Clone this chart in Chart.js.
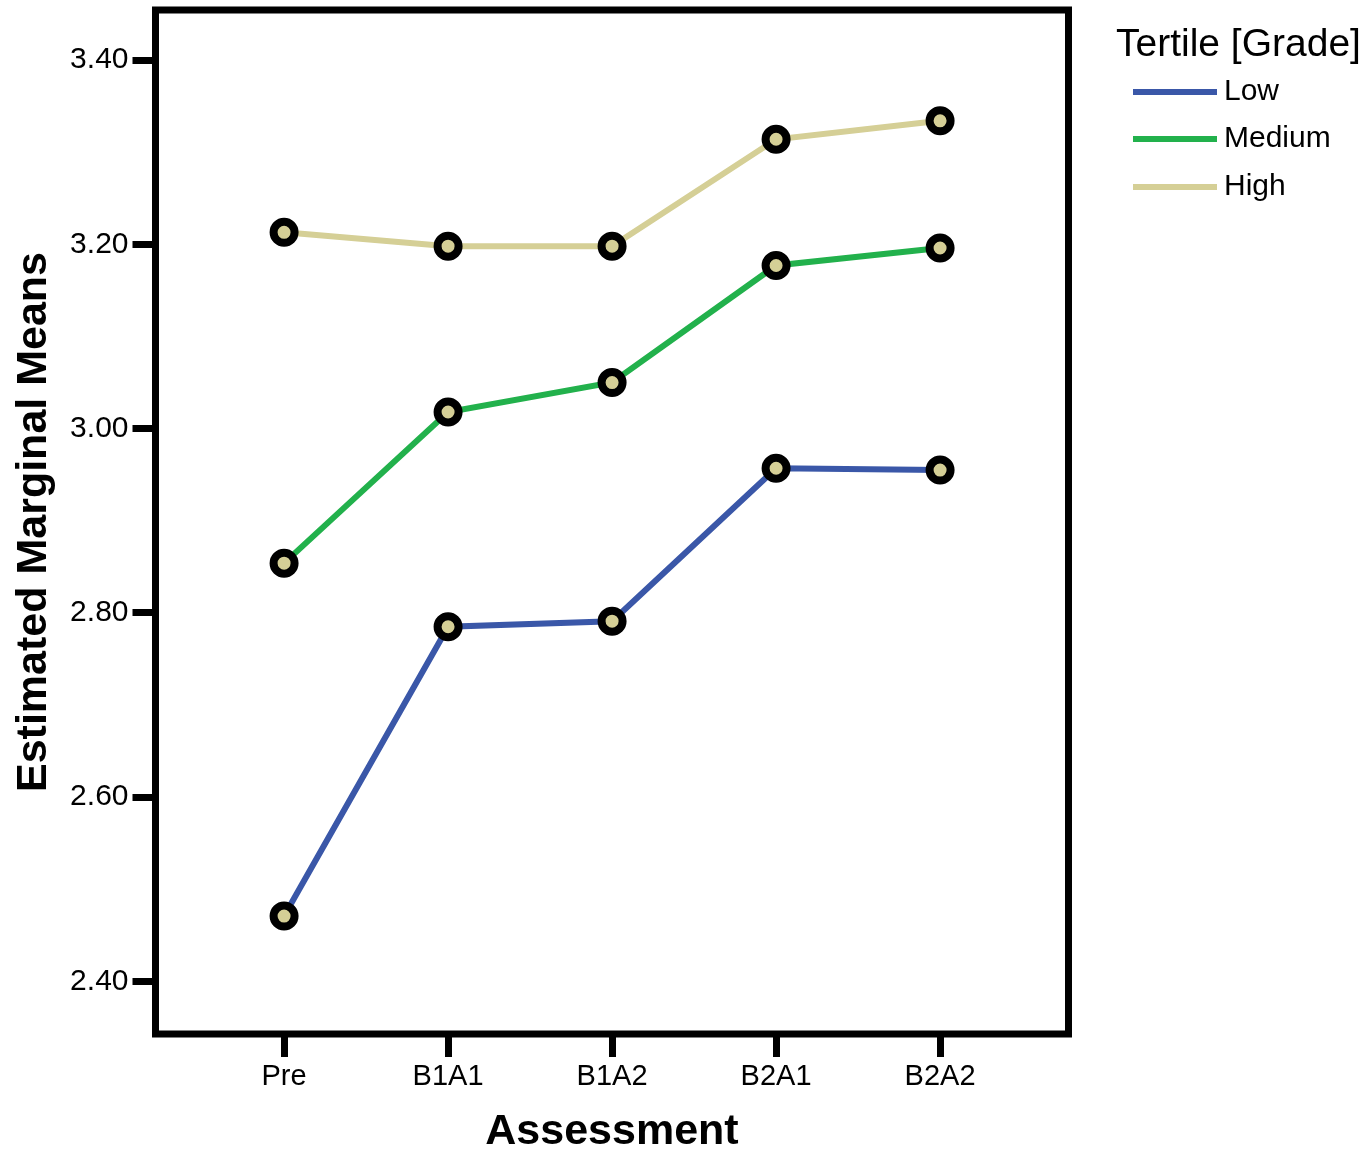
<!DOCTYPE html>
<html>
<head>
<meta charset="utf-8">
<script src="https://cdn.jsdelivr.net/npm/chart.js@4/dist/chart.umd.min.js"></script>
<style>
  html, body { margin: 0; padding: 0; background: #fff; }
  #wrap { width: 1370px; height: 1154px; position: relative; }
</style>
</head>
<body>
<div id="wrap"><canvas id="myChart" width="1370" height="1154"></canvas></div>
<script>
const categories = ['Pre', 'B1A1', 'B1A2', 'B2A1', 'B2A2'];
const lowVals = [2.471, 2.785, 2.791, 2.957, 2.955];
const mediumVals = [2.854, 3.018, 3.050, 3.177, 3.196];
const highVals = [3.213, 3.198, 3.198, 3.314, 3.334];
const yTicks = [2.40, 2.60, 2.80, 3.00, 3.20, 3.40];
const seriesNames = ['Low', 'Medium', 'High'];
const legendTitle = 'Tertile [Grade]';

const lineColors = ['#3a57a8', '#22b14c', '#d5cf96'];
const FONT = '"Liberation Sans", Arial, sans-serif';

function toPoints(vals) {
  return vals.map((v, i) => ({ x: i, y: v }));
}

// black frame round the plot area
const framePlugin = {
  id: 'frame',
  beforeDatasetsDraw(chart) {
    const a = chart.chartArea;
    const ctx = chart.ctx;
    ctx.save();
    ctx.strokeStyle = '#000';
    ctx.lineWidth = 7;
    ctx.strokeRect(a.left, a.top, a.right - a.left, a.bottom - a.top);
    ctx.restore();
  }
};

// legend on the right, like the SPSS one
const legendPlugin = {
  id: 'sideLegend',
  afterDraw(chart) {
    const ctx = chart.ctx;
    ctx.save();
    ctx.fillStyle = '#000';
    ctx.textBaseline = 'middle';
    ctx.textAlign = 'left';
    ctx.font = '39px ' + FONT;
    ctx.fillText(legendTitle, 1116, 45);
    const rows = [92, 139, 187];
    chart.data.datasets.forEach((ds, i) => {
      ctx.strokeStyle = ds.borderColor;
      ctx.lineWidth = 6;
      ctx.beginPath();
      ctx.moveTo(1133, rows[i]);
      ctx.lineTo(1217, rows[i]);
      ctx.stroke();
      ctx.font = '30px ' + FONT;
      ctx.fillStyle = '#000';
      ctx.fillText(ds.label, 1224, rows[i]);
    });
    ctx.restore();
  }
};

const datasets = [lowVals, mediumVals, highVals].map((vals, i) => ({
  label: seriesNames[i],
  data: toPoints(vals),
  borderColor: lineColors[i],
  borderWidth: 6,
  pointRadius: 10.5,
  pointHoverRadius: 10.5,
  pointBorderWidth: 8,
  pointBorderColor: '#000',
  pointBackgroundColor: '#d5cf96',
  tension: 0
}));

const ctx = document.getElementById('myChart').getContext('2d');
const myChart = new Chart(ctx, {
  type: 'line',
  data: { datasets: datasets },
  options: {
    responsive: false,
    animation: false,
    layout: {
      autoPadding: false,
      padding: { top: 10, right: 301.5, bottom: 0, left: 0 }
    },
    plugins: {
      legend: { display: false },
      tooltip: { enabled: false }
    },
    scales: {
      x: {
        type: 'linear',
        min: -0.784,
        max: 4.783,
        afterBuildTicks: (scale) => {
          scale.ticks = categories.map((c, i) => ({ value: i }));
        },
        afterFit: (scale) => {
          scale.height = 120;
        },
        ticks: {
          callback: (v) => categories[v],
          color: '#000',
          font: { family: FONT, size: 29 },
          padding: 3,
          maxRotation: 0
        },
        grid: {
          drawOnChartArea: false,
          drawTicks: true,
          tickLength: 23,
          tickWidth: 7,
          tickColor: '#000'
        },
        border: { display: false },
        title: {
          display: true,
          text: 'Assessment',
          color: '#000',
          font: { family: FONT, size: 43, weight: 'bold', lineHeight: 1 },
          padding: 0
        }
      },
      y: {
        min: 2.343,
        max: 3.4543,
        afterBuildTicks: (scale) => {
          scale.ticks = yTicks.map((v) => ({ value: v }));
        },
        afterFit: (scale) => {
          scale.width = 155.5;
          scale.paddingTop = 0;
          scale.paddingBottom = 0;
        },
        ticks: {
          callback: (v) => v.toFixed(2),
          color: '#000',
          font: { family: FONT, size: 30 },
          padding: 4
        },
        grid: {
          drawOnChartArea: false,
          drawTicks: true,
          tickLength: 23,
          tickWidth: 7,
          tickColor: '#000'
        },
        border: { display: false },
        title: {
          display: true,
          text: 'Estimated Marginal Means',
          color: '#000',
          font: { family: FONT, size: 43, weight: 'bold', lineHeight: 1.2 },
          padding: { top: 8, bottom: 0 }
        }
      }
    }
  },
  plugins: [framePlugin, legendPlugin]
});
</script>
</body>
</html>
